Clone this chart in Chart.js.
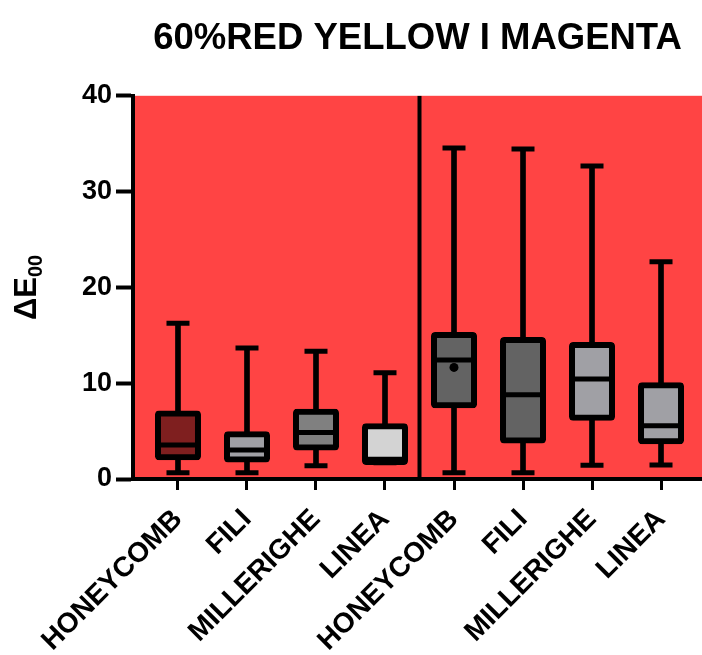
<!DOCTYPE html>
<html>
<head>
<meta charset="utf-8">
<script src="https://cdn.jsdelivr.net/npm/chart.js@4.4.1/dist/chart.umd.min.js"></script>
<style>
  html, body { margin: 0; padding: 0; background: #fff; }
  canvas { display: block; }
</style>
</head>
<body>
<canvas id="c" width="702" height="655"></canvas>
<script>
// ---- data ----
const categories = ['HONEYCOMB', 'FILI', 'MILLERIGHE', 'LINEA', 'HONEYCOMB', 'FILI', 'MILLERIGHE', 'LINEA'];
const minVals    = [0.66, 0.65, 1.39, 1.70, 0.66, 0.66, 1.43, 1.47];
const q1Vals     = [2.27, 2.04, 3.30, 1.78, 7.70, 4.03, 6.39, 3.93];
const medianVals = [3.54, 3.02, 4.85, 2.05, 12.43, 8.80, 10.44, 5.55];
const q3Vals     = [6.83, 4.68, 7.02, 5.51, 15.03, 14.50, 13.98, 9.79];
const maxVals    = [16.26, 13.68, 13.33, 11.10, 34.55, 34.45, 32.67, 22.69];
const meanVals   = [null, null, null, null, 11.65, null, null, null];
const yTicks     = [0, 10, 20, 30, 40];
const titleText  = '60%RED YELLOW I MAGENTA';

// ---- styles ----
const boxColors = ['#7f1f1f', '#a0a0a5', '#808080', '#d3d3d3', '#636363', '#636363', '#a0a0a5', '#a0a0a5'];
const FONT = "'Liberation Sans', Arial, Helvetica, sans-serif";
const RED = '#ff4444';

const idx = categories.map((_, i) => i);
const dividerX = categories.length / 2 - 0.5;

const bgPlugin = {
  id: 'bg',
  beforeDraw(chart) {
    const { ctx, width, height, chartArea: a } = chart;
    ctx.save();
    ctx.fillStyle = '#fff';
    ctx.fillRect(0, 0, width, height);
    ctx.fillStyle = RED;
    ctx.fillRect(a.left, a.top, a.right - a.left, a.bottom - a.top);
    ctx.restore();
  }
};

const yTitlePlugin = {
  id: 'ytitle',
  afterDraw(chart) {
    const { ctx, chartArea: a } = chart;
    const cy = (a.top + a.bottom) / 2;
    ctx.save();
    ctx.translate(36, cy);
    ctx.rotate(-Math.PI / 2);
    ctx.fillStyle = '#000';
    ctx.textBaseline = 'alphabetic';
    ctx.textAlign = 'left';
    ctx.font = "bold 31px " + FONT;
    const w1 = ctx.measureText('ΔE').width;
    ctx.font = "bold 20px " + FONT;
    const w2 = ctx.measureText('00').width;
    const start = -(w1 + w2) / 2;
    ctx.font = "bold 31px " + FONT;
    ctx.fillText('ΔE', start, 0);
    ctx.font = "bold 20px " + FONT;
    ctx.fillText('00', start + w1, 6);
    ctx.restore();
  }
};

new Chart(document.getElementById('c'), {
  type: 'bar',
  data: {
    datasets: [
      {
        type: 'bar', label: 'whiskers',
        data: idx.map(i => ({ x: i, y: [minVals[i], maxVals[i]] })),
        backgroundColor: '#000', borderWidth: 0, barThickness: 5,
        grouped: false, order: 6
      },
      {
        type: 'scatter', label: 'caps',
        data: idx.map(i => ({ x: i, y: minVals[i] })).concat(idx.map(i => ({ x: i, y: maxVals[i] }))),
        pointStyle: 'line', pointRadius: 11.5, pointBorderWidth: 5, borderWidth: 5,
        pointBorderColor: '#000', borderColor: '#000', order: 5
      },
      {
        type: 'bar', label: 'boxes',
        data: idx.map(i => ({ x: i, y: [q1Vals[i], q3Vals[i]] })),
        backgroundColor: boxColors, borderColor: '#000', borderWidth: 6,
        borderRadius: 4, borderSkipped: false, inflateAmount: 3,
        barThickness: 40, grouped: false, order: 4
      },
      {
        type: 'scatter', label: 'median',
        data: idx.map(i => ({ x: i, y: medianVals[i] })),
        pointStyle: 'line', pointRadius: 20, pointBorderWidth: 5, borderWidth: 5,
        pointBorderColor: '#000', borderColor: '#000', order: 3
      },
      {
        type: 'scatter', label: 'mean',
        data: idx.filter(i => meanVals[i] != null).map(i => ({ x: i, y: meanVals[i] })),
        pointStyle: 'circle', pointRadius: 4.5, pointBorderWidth: 0,
        pointBackgroundColor: '#000', backgroundColor: '#000', order: 2
      },
      {
        type: 'line', label: 'divider',
        data: [{ x: dividerX, y: yTicks[0] }, { x: dividerX, y: yTicks[yTicks.length - 1] }],
        borderColor: '#000', borderWidth: 4, pointRadius: 0, fill: false, order: 1
      }
    ]
  },
  options: {
    responsive: false,
    devicePixelRatio: 1,
    animation: false,
    events: [],
    layout: { autoPadding: false, padding: { left: 0, right: 0, top: 0, bottom: 0 } },
    plugins: {
      legend: { display: false },
      tooltip: { enabled: false },
      title: {
        display: true, text: titleText, fullSize: false, color: '#000',
        font: { family: FONT, size: 36.5, weight: 'bold' },
        padding: { top: 17, bottom: 35 }
      }
    },
    scales: {
      x: {
        type: 'linear', min: -0.652, max: 7.594, offset: false,
        afterBuildTicks: s => { s.ticks = idx.map(v => ({ value: v })); },
        afterFit: s => { s.height = 176; s.paddingLeft = 0; s.paddingRight = 0; },
        ticks: {
          autoSkip: false, maxRotation: 45, minRotation: 45, padding: 13,
          color: '#000', font: { family: FONT, size: 28, weight: 'bold' },
          callback: v => categories[v]
        },
        grid: { display: true, offset: false, drawOnChartArea: false, drawTicks: true, tickLength: 11, tickWidth: 3, tickColor: '#000' },
        border: { display: true, width: 4, color: '#000' }
      },
      y: {
        min: yTicks[0], max: yTicks[yTicks.length - 1],
        afterBuildTicks: s => { s.ticks = yTicks.map(v => ({ value: v })); },
        afterFit: s => { s.width = 133; },
        ticks: { color: '#000', padding: 4, font: { family: FONT, size: 27, weight: 'bold' } },
        grid: { display: true, drawOnChartArea: false, drawTicks: true, tickLength: 17, tickWidth: 4, tickColor: '#000' },
        border: { display: true, width: 4, color: '#000' }
      }
    }
  },
  plugins: [bgPlugin, yTitlePlugin]
});
</script>
</body>
</html>
